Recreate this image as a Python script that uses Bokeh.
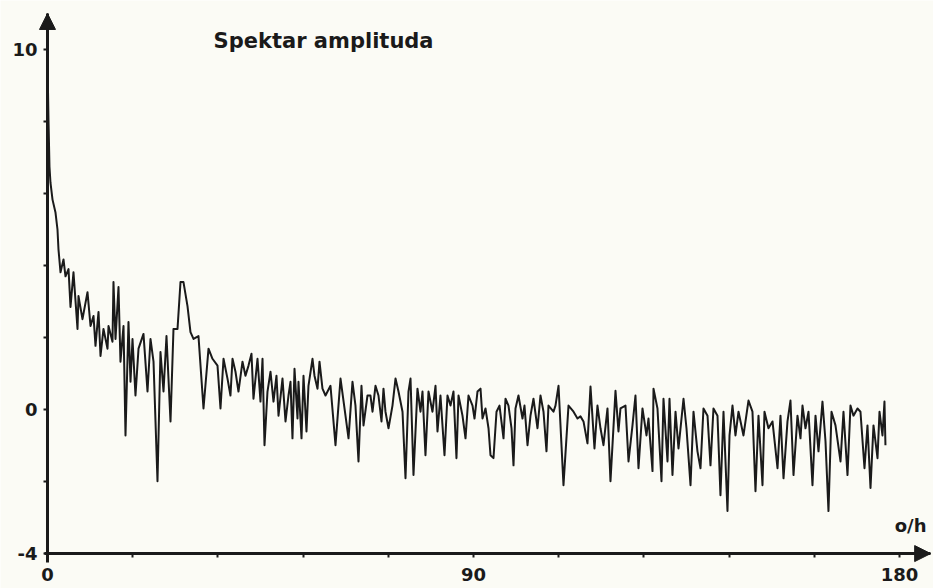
from bokeh.plotting import figure
from bokeh.models import FixedTicker, Label, Arrow, NormalHead, Range1d
from bokeh.embed import file_html
from bokeh.resources import INLINE

# ---- data ----
freq = [0.00, 0.21, 0.42, 0.63, 1.06, 1.69, 2.11, 2.32, 2.75, 3.38,
        3.80, 4.44, 4.86, 5.49, 6.34, 6.55, 7.39, 8.45, 9.09, 9.72,
        10.14, 10.78, 11.20, 11.83, 12.68, 12.89, 13.73, 13.94, 14.37, 15.00,
        15.42, 16.06, 16.48, 17.11, 17.54, 17.96, 18.59, 19.23, 20.28, 21.13,
        21.76, 22.40, 23.24, 23.87, 24.51, 25.14, 25.99, 26.62, 27.47, 28.10,
        28.73, 29.58, 30.21, 30.85, 31.90, 32.96, 34.02, 34.86, 35.92, 36.55,
        37.19, 38.03, 38.66, 39.09, 39.72, 40.35, 41.20, 41.83, 42.47, 43.10,
        43.52, 44.37, 45.00, 45.43, 45.85, 46.48, 47.12, 47.75, 48.38, 48.81,
        49.65, 50.29, 50.92, 51.34, 51.76, 52.19, 52.82, 53.03, 53.67, 54.09,
        54.72, 55.14, 55.99, 56.41, 57.05, 57.47, 58.10, 58.74, 59.79, 60.85,
        61.91, 62.96, 63.60, 64.44, 65.07, 65.71, 66.34, 66.77, 67.61, 68.24,
        68.67, 69.30, 69.93, 70.57, 70.99, 71.41, 72.05, 72.89, 73.53, 74.16,
        75.01, 75.64, 76.27, 76.70, 77.33, 78.17, 78.81, 79.23, 79.86, 80.50,
        81.34, 81.98, 82.40, 83.03, 83.88, 84.51, 85.15, 85.78, 86.41, 86.84,
        87.68, 88.32, 88.95, 89.80, 90.22, 90.85, 91.49, 91.91, 92.54, 93.18,
        93.60, 94.23, 94.87, 95.50, 96.35, 96.77, 97.40, 98.04, 98.46, 98.88,
        99.51, 100.36, 100.78, 101.42, 102.05, 102.68, 103.53, 104.16, 104.80, 105.43,
        105.85, 106.91, 107.33, 107.97, 109.02, 110.08, 111.14, 111.98, 112.61, 113.25,
        114.09, 114.73, 115.57, 116.20, 116.84, 117.47, 118.32, 118.95, 120.01, 120.64,
        121.06, 122.12, 122.76, 123.60, 124.23, 124.87, 125.71, 126.56, 126.98, 127.83,
        128.04, 128.88, 129.73, 130.15, 131.00, 131.42, 132.05, 132.69, 133.32, 134.38,
        135.01, 135.86, 136.49, 137.33, 137.97, 138.60, 139.45, 140.08, 140.71, 141.56,
        142.19, 142.83, 143.67, 144.10, 144.73, 145.36, 146.00, 147.05, 148.11, 148.95,
        149.59, 150.22, 151.07, 151.49, 152.33, 153.18, 154.24, 154.87, 155.51, 156.35,
        156.98, 157.62, 158.46, 159.10, 159.52, 160.15, 160.79, 161.63, 162.27, 162.90,
        163.74, 164.38, 165.01, 165.65, 166.49, 167.55, 168.18, 169.03, 169.66, 170.29,
        171.14, 171.77, 172.62, 173.25, 173.89, 174.52, 175.37, 175.79, 176.42, 176.84, 177.05]

amp = [9.70, 8.04, 6.74, 6.30, 5.83, 5.47, 5.00, 4.45, 3.81, 4.17,
       3.70, 3.90, 2.85, 3.81, 2.24, 3.15, 2.51, 3.26, 2.32, 2.60,
       1.77, 2.71, 1.49, 2.24, 1.69, 2.32, 1.88, 3.54, 1.96, 3.40,
       1.33, 2.32, -0.72, 2.43, 0.77, 1.96, 0.39, 1.69, 2.10, 0.50,
       1.96, 1.33, -1.99, 1.60, 0.50, 2.04, -0.33, 2.24, 2.24, 3.54,
       3.54, 2.87, 2.15, 1.96, 2.04, 0.03, 1.69, 1.41, 1.22, 0.03,
       1.41, 0.86, 0.39, 1.41, 1.05, 0.50, 1.33, 0.94, 1.22, 1.55,
       0.30, 1.41, 0.22, 1.41, -0.99, 0.50, 1.05, 0.22, 0.94, -0.17,
       0.86, -0.33, 0.39, 0.77, -0.80, 1.13, -0.25, 0.77, -0.80, 0.94,
       -0.61, 0.66, 1.41, 0.94, 0.58, 1.33, 0.58, 0.39, 0.66, -0.99,
       0.86, -0.17, -0.80, 0.77, 0.11, -1.44, 0.66, -0.44, 0.39, 0.39,
       -0.06, 0.66, 0.39, -0.33, 0.58, -0.06, -0.52, 0.11, 0.86, 0.50,
       -0.06, -1.91, 0.50, 0.86, -1.82, 0.58, -0.06, 0.50, -1.27, 0.50,
       -0.06, 0.66, -0.61, 0.39, -1.27, 0.39, 0.11, 0.50, -1.35, 0.39,
       -0.17, -0.80, 0.39, 0.11, -0.25, 0.50, 0.58, -0.25, 0.03, -0.52,
       -1.27, -1.35, -0.06, 0.11, -0.80, 0.30, 0.11, -0.52, -1.55, 0.03,
       0.39, -0.25, 0.11, -0.99, -0.17, 0.30, -0.52, 0.39, -0.06, -1.16,
       0.11, -0.06, 0.11, 0.66, -2.10, 0.11, -0.06, -0.25, -0.19, -0.33,
       -0.94, 0.64, -1.08, 0.11, -0.52, -0.99, 0.03, -1.99, 0.52, -0.61,
       0.03, 0.11, -1.44, -0.44, 0.39, -1.63, 0.03, -0.72, -0.25, -1.71,
       0.58, 0.03, -1.99, 0.30, -1.44, 0.30, -1.82, -0.06, -1.08, 0.30,
       -0.52, -2.10, -0.06, -1.16, -1.63, 0.03, -0.17, -1.55, 0.03, -0.17,
       -2.38, -0.06, -2.82, -0.72, 0.11, -0.72, -0.06, -0.72, 0.25, -0.06,
       -2.27, -0.17, -2.10, -0.06, -0.52, -0.33, -1.63, -0.17, -1.91, -0.33,
       0.25, -1.82, -0.17, -0.80, 0.11, -0.52, -0.06, -2.10, -0.17, -1.16,
       0.22, -0.88, -2.82, -0.06, -0.44, -1.44, -0.06, -1.82, 0.11, -0.17,
       0.03, -0.06, -1.63, -0.44, -2.18, -0.44, -1.35, -0.06, -0.72, 0.22, -0.99]

x_ticks = [0, 18, 36, 54, 72, 90, 108, 126, 144, 162, 180]
x_labeled = [0, 90, 180]
y_ticks = [-4, -2, 0, 2, 4, 6, 8, 10]
y_labeled = [-4, 0, 10]
title_text = "Spektar amplituda"
unit_text = "o/h"

assert len(freq) == len(amp)

# ---- layout / styling ----
X_MIN, X_MAX = -9.93, 187.2        # visible frame (whole canvas)
Y_MIN, Y_MAX = -4.97, 11.36
X_AXIS_END = 186.6                 # tip of the x arrow
Y_AXIS_BASE, Y_AXIS_END = -4, 11   # y axis from -4 up to its arrow tip
BG = "#fbfbf5"
INK = "#1a1a1a"
FONT = "DejaVu Sans"

p = figure(width=933, height=588, output_backend="svg", toolbar_location=None,
           x_range=Range1d(X_MIN, X_MAX), y_range=Range1d(Y_MIN, Y_MAX),
           min_border_left=0, min_border_right=0, min_border_top=0,
           min_border_bottom=0)
p.background_fill_color = BG
p.border_fill_color = BG
p.outline_line_color = None
p.grid.visible = False

p.line(freq, amp, line_color=INK, line_width=2, line_join="round")

xa, ya = p.xaxis[0], p.yaxis[0]
xa.fixed_location = Y_AXIS_BASE
ya.fixed_location = 0
xa.bounds = (-0.6, X_AXIS_END)
ya.bounds = (Y_AXIS_BASE - 0.25, Y_AXIS_END)

for ax, ticks, labeled in ((xa, x_ticks, x_labeled), (ya, y_ticks, y_labeled)):
    ax.ticker = FixedTicker(ticks=ticks)
    ax.major_label_overrides = {t: (str(t) if t in labeled else "") for t in ticks}
    ax.axis_line_color = INK
    ax.axis_line_width = 3
    ax.major_tick_line_color = INK
    ax.major_tick_line_width = 2
    ax.major_tick_out = 4
    ax.major_tick_in = 0
    ax.minor_tick_line_color = None
    ax.major_label_text_font = FONT
    ax.major_label_text_font_style = "bold"
    ax.major_label_text_font_size = "18px"
    ax.major_label_text_color = INK
xa.major_label_standoff = 10
ya.major_label_standoff = 6

head_kw = dict(size=16, fill_color=INK, line_color=INK, line_width=1)
p.add_layout(Arrow(end=NormalHead(**head_kw), x_start=0, y_start=Y_AXIS_BASE,
                   x_end=0, y_end=Y_AXIS_END, line_color=INK, line_width=3))
p.add_layout(Arrow(end=NormalHead(**head_kw), x_start=0, y_start=Y_AXIS_BASE,
                   x_end=X_AXIS_END, y_end=Y_AXIS_BASE, line_color=INK, line_width=3))

p.add_layout(Label(x=35.1, y=10.23, text=title_text, text_font=FONT,
                   text_font_style="bold", text_font_size="21px",
                   text_color=INK, text_baseline="alphabetic"))
p.add_layout(Label(x=179.0, y=-3.23, text=unit_text, text_font=FONT,
                   text_font_style="bold", text_font_size="18px",
                   text_color=INK, text_baseline="alphabetic"))

html = file_html(p, INLINE)
html = html.replace("<body>", f'<body style="background:{BG}">', 1)
open("out.html", "w").write(html)
